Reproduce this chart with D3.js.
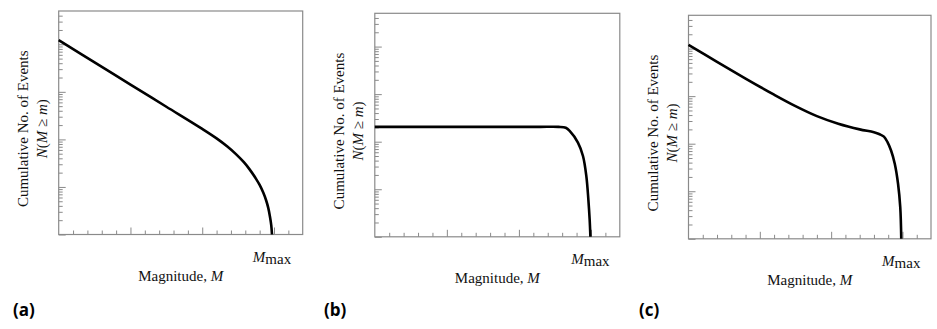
<!DOCTYPE html>
<html>
<head>
<meta charset="utf-8">
<script src="https://cdn.jsdelivr.net/npm/d3@7"></script>
<style>
  html, body { margin: 0; padding: 0; background: #fff; }
  svg { display: block; }
</style>
</head>
<body>
<svg id="chart" width="937" height="329"></svg>
<script>
// ---------- data ----------
const panelLabels = ["(a)", "(b)", "(c)"];
const xLabelText = "Magnitude, ";
const yLabelText = "Cumulative No. of Events";

// Panel (a): tapered Gutenberg-Richter
const magA = [4.0, 4.5, 5.0, 5.5, 6.0, 6.2, 6.35, 6.47, 6.58, 6.66, 6.75, 6.8, 6.85, 6.89, 6.92, 6.944, 6.962, 6.972];
const nA   = [12190, 4170, 1422, 486, 166, 105, 70.8, 49, 33.1, 23.4, 14.8, 11.0, 7.6, 5.25, 3.63, 2.37, 1.56, 1];

// Panel (b): flat characteristic
const magB = [4.0, 4.5, 5.0, 5.5, 6.0, 6.3, 6.55, 6.65, 6.704, 6.819, 6.889, 6.936, 6.964, 6.982, 6.992];
const nB   = [205, 205, 205, 205, 205, 205, 205, 196, 169, 96, 50, 18.7, 6.0, 2.25, 1];

// Panel (c): GR + characteristic
const magC = [4.0, 4.4, 4.8, 5.2, 5.5, 5.8, 6.1, 6.4, 6.6, 6.68, 6.74, 6.79, 6.84, 6.892, 6.938, 6.969, 6.983];
const nC   = [11970, 5250, 2344, 1072, 617, 380, 263, 200, 174, 158, 141, 108, 72, 38, 14.4, 4.6, 1];

const xDomain = [4, 7.4];
const xMajorTicks = [5, 6, 7];
const xMinorTicks = d3.range(21, 37).map(v => v / 5).filter(v => !xMajorTicks.includes(v));
const yDomain = [1, Math.pow(10, 4.7)];
const yMajorTicks = [1, 10, 100, 1000, 10000];
const yMinorTicks = [];
yMajorTicks.forEach(d => { for (let k = 2; k <= 9; k++) { const v = d * k; if (v < yDomain[1] * 0.98) yMinorTicks.push(v); } });
const mmaxValues = [6.972, 6.992, 6.983];

// ---------- layout ----------
const layout = [
  { left: 58.7,  top: 11,   width: 244,   labelX: 13 },
  { left: 374.8, top: 13.3, width: 245,   labelX: 324 },
  { left: 688.5, top: 15.3, width: 242.5, labelX: 639 }
];
const plotH = 223.5;
const series = [[magA, nA], [magB, nB], [magC, nC]];

const svg = d3.select("#chart");
const serif = "'Liberation Serif', 'Times New Roman', serif";
const gridColor = "#8a8a8a";
const fs = 15;

layout.forEach((L, i) => {
  const g = svg.append("g").attr("transform", `translate(${L.left},${L.top})`);
  const x = d3.scaleLinear().domain(xDomain).range([0, L.width]);
  const y = d3.scaleLog().domain(yDomain).range([plotH, 0]);

  const addAxis = (axis, tr) => {
    const a = g.append("g").attr("transform", tr).call(axis);
    a.select(".domain").remove();
    a.selectAll("line").attr("stroke", gridColor).attr("stroke-width", 1);
    a.selectAll("text").remove();
  };
  addAxis(d3.axisBottom(x).tickValues(xMinorTicks).tickSize(-4).tickFormat(""), `translate(0,${plotH})`);
  addAxis(d3.axisBottom(x).tickValues(xMajorTicks).tickSize(-7).tickFormat(""), `translate(0,${plotH})`);
  addAxis(d3.axisLeft(y).tickValues(yMinorTicks).tickSize(-4).tickFormat(""), "translate(0,0)");
  addAxis(d3.axisLeft(y).tickValues(yMajorTicks).tickSize(-7).tickFormat(""), "translate(0,0)");

  g.append("rect").attr("x", 0).attr("y", 0).attr("width", L.width).attr("height", plotH)
    .attr("fill", "none").attr("stroke", gridColor).attr("stroke-width", 1.2);

  const [ms, ns] = series[i];
  const pts = ms.map((m, j) => [m, ns[j]]);
  const line = d3.line().x(d => x(d[0])).y(d => y(d[1])).curve(d3.curveCatmullRom.alpha(0.5));
  g.append("path").datum(pts).attr("d", line)
    .attr("fill", "none").attr("stroke", "#000").attr("stroke-width", 2.6)
    .attr("stroke-linejoin", "round");

  const mm = g.append("text").attr("x", x(mmaxValues[i])).attr("y", plotH + 27.5)
    .attr("text-anchor", "middle").attr("font-family", serif).attr("font-size", fs).attr("fill", "#111");
  mm.append("tspan").attr("font-style", "italic").text("M");
  mm.append("tspan").attr("dy", 2).text("max");

  const xl = g.append("text").attr("x", L.width / 2).attr("y", plotH + 46.5)
    .attr("text-anchor", "middle").attr("font-family", serif).attr("font-size", fs).attr("fill", "#111");
  xl.append("tspan").text(xLabelText);
  xl.append("tspan").attr("font-style", "italic").text("M");

  const cy = plotH / 2 + 6;
  g.append("text").attr("transform", `translate(-30.5,${cy}) rotate(-90)`)
    .attr("text-anchor", "middle").attr("font-family", serif).attr("font-size", fs).attr("fill", "#111")
    .text(yLabelText);
  const y2 = g.append("text").attr("transform", `translate(-12,${cy}) rotate(-90)`)
    .attr("text-anchor", "middle").attr("font-family", serif).attr("font-size", fs).attr("fill", "#111");
  y2.append("tspan").attr("font-style", "italic").text("N");
  y2.append("tspan").text("(");
  y2.append("tspan").attr("font-style", "italic").text("M");
  y2.append("tspan").text(" \u2265 ");
  y2.append("tspan").attr("font-style", "italic").text("m");
  y2.append("tspan").text(")");

  svg.append("text").attr("x", L.labelX).attr("y", 316)
    .attr("font-family", "'Open Sans', 'Noto Sans', sans-serif").attr("font-weight", "bold")
    .attr("font-size", 17).attr("fill", "#000").text(panelLabels[i]);
});
</script>
</body>
</html>
